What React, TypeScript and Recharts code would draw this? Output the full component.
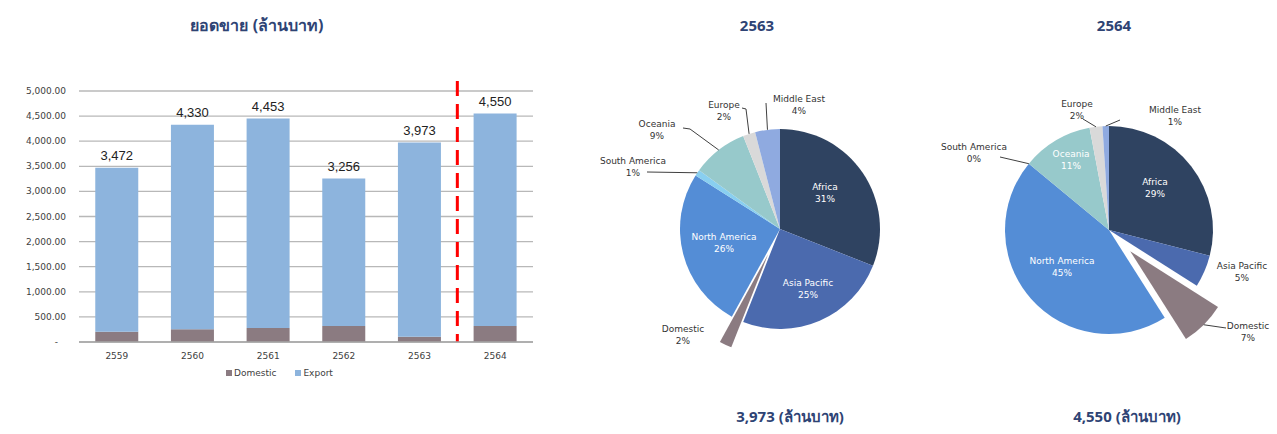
import { BarChart, Bar, XAxis, YAxis, CartesianGrid, ReferenceLine, LabelList, PieChart, Pie, Cell } from 'recharts';

// sales by year (million baht)
const years = ['2559', '2560', '2561', '2562', '2563', '2564'];
const totalSales = [3472, 4330, 4453, 3256, 3973, 4550];
const domesticSales = [205, 252, 278, 317, 105, 317];
const yTicks = [0, 500, 1000, 1500, 2000, 2500, 3000, 3500, 4000, 4500, 5000];
const seriesNames = ['Domestic', 'Export'];

// market share (%) by region
const regions = ['Africa', 'Asia Pacific', 'Domestic', 'North America', 'South America', 'Oceania', 'Europe', 'Middle East'];
const share2563 = [31, 25, 2, 26, 1, 9, 2, 4];
const share2564 = [29, 5, 7, 45, 0, 11, 2, 1];

const DOMESTIC_COLOR = '#8b7b81';
const EXPORT_COLOR = '#8db4dd';
const regionColors = ['#2f4361', '#4b6aae', DOMESTIC_COLOR, '#548dd6', '#89cff0', '#97c9cb', '#d9d9d9', '#8faae0'];
const NAVY = '#2e4374';
const SMALL_FONT = "'DejaVu Sans', sans-serif";
const HEAD_FONT = "'Noto Sans', 'DejaVu Sans', sans-serif";

type LabelSpot = { dx: number; dy: number; inside?: boolean; line?: number[][] };

// label placement relative to the pie centre (hand placed, like the original)
const spots2563: Record<string, LabelSpot> = {
  'Africa': { dx: 45, dy: -36, inside: true },
  'Asia Pacific': { dx: 28, dy: 60, inside: true },
  'Domestic': { dx: -97, dy: 106 },
  'North America': { dx: -56, dy: 14, inside: true },
  'South America': { dx: -147, dy: -62, line: [[-133, -57]] },
  'Oceania': { dx: -123, dy: -99, line: [[-90, -100], [-97, -101]] },
  'Europe': { dx: -56, dy: -118, line: [[-34, -120], [-38, -121]] },
  'Middle East': { dx: 19, dy: -124, line: [[-14, -126]] },
};

const spots2564: Record<string, LabelSpot> = {
  'Africa': { dx: 46, dy: -42, inside: true },
  'Asia Pacific': { dx: 133, dy: 42 },
  'Domestic': { dx: 139, dy: 102, line: [[117, 98]] },
  'North America': { dx: -47, dy: 37, inside: true },
  'South America': { dx: -135, dy: -77, line: [[-109, -73]] },
  'Oceania': { dx: -38, dy: -70, inside: true },
  'Europe': { dx: -32, dy: -120, line: [[-26, -111]] },
  'Middle East': { dx: 66, dy: -114, line: [[11, -110]] },
};

const fmt = (n: number) => n.toLocaleString('en-US');

const barData = years.map((year, i) => ({
  year,
  domestic: domesticSales[i],
  export: totalSales[i] - domesticSales[i],
  total: totalSales[i],
}));

const YTick = ({ x, y, payload }: any) => (
  <text
    x={payload.value === 0 ? x - 8 : x}
    y={y}
    textAnchor="end"
    dominantBaseline="central"
    fontSize={9}
    fontFamily={SMALL_FONT}
    fill="#404040"
  >
    {payload.value === 0
      ? '-'
      : payload.value.toLocaleString('en-US', { minimumFractionDigits: 2, maximumFractionDigits: 2 })}
  </text>
);

const TotalLabel = ({ x, y, width, value }: any) => (
  <text
    x={Number(x) + Number(width) / 2}
    y={Number(y) - 12}
    textAnchor="middle"
    dominantBaseline="central"
    fontSize={13}
    fontFamily="'Liberation Sans', sans-serif"
    fill="#222"
  >
    {fmt(value)}
  </text>
);

const RADIAN = Math.PI / 180;

interface RegionPieProps {
  shares: number[];
  spots: Record<string, LabelSpot>;
  radius: number;
  explode: number;
  left: number;
  top: number;
  width: number;
  height: number;
  cx: number;
  cy: number;
}

const RegionPie = ({ shares, spots, radius, explode, left, top, width, height, cx, cy }: RegionPieProps) => {
  const data = regions.map((name, i) => ({ name, value: shares[i] }));
  const domIdx = regions.indexOf('Domestic');
  const total = shares.reduce((a, b) => a + b, 0);
  const before = shares.slice(0, domIdx).reduce((a, b) => a + b, 0);
  const mid = ((before + shares[domIdx] / 2) / total) * 2 * Math.PI;
  const ex = cx + explode * Math.sin(mid);
  const ey = cy - explode * Math.cos(mid);

  const renderLabel = (p: any) => {
    const { index, midAngle } = p;
    const s = spots[regions[index]];
    const ox = index === domIdx ? ex : cx;
    const oy = index === domIdx ? ey : cy;
    const lx = cx + s.dx;
    const ly = cy + s.dy;
    const color = s.inside ? '#ffffff' : '#333333';
    let line = null;
    if (s.line) {
      const sx = ox + radius * Math.cos(-midAngle * RADIAN);
      const sy = oy + radius * Math.sin(-midAngle * RADIAN);
      const pts = [[sx, sy], ...s.line.map(([a, b]) => [cx + a, cy + b])];
      line = <polyline points={pts.map((q) => q.join(',')).join(' ')} fill="none" stroke="#404040" strokeWidth={1} />;
    }
    return (
      <g>
        {line}
        <text x={lx} y={ly - 6} textAnchor="middle" dominantBaseline="central" fontSize={9} fontFamily={SMALL_FONT} fill={color}>
          {regions[index]}
        </text>
        <text x={lx} y={ly + 6} textAnchor="middle" dominantBaseline="central" fontSize={9} fontFamily={SMALL_FONT} fill={color}>
          {`${shares[index]}%`}
        </text>
      </g>
    );
  };

  return (
    <div style={{ position: 'absolute', left, top }}>
      <PieChart width={width} height={height} margin={{ top: 0, right: 0, bottom: 0, left: 0 }}>
        <Pie
          data={data}
          dataKey="value"
          nameKey="name"
          cx={cx}
          cy={cy}
          outerRadius={radius}
          startAngle={90}
          endAngle={-270}
          stroke="none"
          label={renderLabel}
          labelLine={false}
          isAnimationActive={false}
        >
          {data.map((d, i) => (
            <Cell key={d.name} fill={i === domIdx ? 'transparent' : regionColors[i]} />
          ))}
        </Pie>
        <Pie
          data={data}
          dataKey="value"
          nameKey="name"
          cx={ex}
          cy={ey}
          outerRadius={radius}
          startAngle={90}
          endAngle={-270}
          stroke="none"
          label={false}
          labelLine={false}
          isAnimationActive={false}
        >
          {data.map((d, i) => (
            <Cell key={d.name} fill={i === domIdx ? regionColors[i] : 'transparent'} />
          ))}
        </Pie>
      </PieChart>
    </div>
  );
};

const headStyle = (cxPos: number, cyPos: number, size: number): React.CSSProperties => ({
  position: 'absolute',
  left: cxPos - 150,
  top: cyPos - size,
  width: 300,
  height: size * 2,
  lineHeight: `${size * 2}px`,
  textAlign: 'center',
  fontFamily: HEAD_FONT,
  fontWeight: 700,
  fontSize: size,
  color: NAVY,
});

export default function App() {
  const legendColors = [DOMESTIC_COLOR, EXPORT_COLOR];
  return (
    <div style={{ position: 'absolute', left: 0, top: 0, width: 1277, height: 434, background: '#fff', overflow: 'hidden' }}>
      <div style={headStyle(257, 25, 16)}>ยอดขาย (ล้านบาท)</div>
      <div style={headStyle(757, 25, 15)}>{years[4]}</div>
      <div style={headStyle(1114, 25, 15)}>{years[5]}</div>
      <div style={headStyle(790, 416, 15)}>{`${fmt(totalSales[4])} (ล้านบาท)`}</div>
      <div style={headStyle(1127, 416, 15)}>{`${fmt(totalSales[5])} (ล้านบาท)`}</div>

      <div style={{ position: 'absolute', left: 0, top: 0 }}>
        <BarChart
          width={560}
          height={400}
          data={barData}
          margin={{ top: 91, right: 27, bottom: 28, left: 0 }}
          barCategoryGap="21.5%"
        >
          <CartesianGrid vertical={false} stroke="#b8b8b8" strokeWidth={1.3} />
          <XAxis
            dataKey="year"
            height={30}
            axisLine={{ stroke: '#a6a6a6', strokeWidth: 1.3 }}
            tickLine={false}
            tickSize={0}
            tickMargin={11}
            tick={{ fontSize: 9, fontFamily: SMALL_FONT, fill: '#404040' }}
          />
          <YAxis
            width={79}
            domain={[0, 5000]}
            ticks={yTicks}
            axisLine={false}
            tickLine={false}
            tickSize={0}
            tickMargin={13}
            tick={<YTick />}
          />
          <Bar dataKey="domestic" stackId="s" fill={DOMESTIC_COLOR} isAnimationActive={false} />
          <Bar dataKey="export" stackId="s" fill={EXPORT_COLOR} isAnimationActive={false}>
            <LabelList dataKey="total" content={<TotalLabel />} />
          </Bar>
          <ReferenceLine
            segment={[{ x: years[5], y: 5200 }, { x: years[5], y: 0 }]}
            position="start"
            ifOverflow="visible"
            stroke="#ff0000"
            strokeWidth={3}
            strokeDasharray="15 8"
          />
        </BarChart>
      </div>

      <div
        style={{
          position: 'absolute',
          left: 226,
          top: 366,
          display: 'flex',
          gap: 19,
          fontFamily: SMALL_FONT,
          fontSize: 9,
          color: '#404040',
          lineHeight: '14px',
        }}
      >
        {seriesNames.map((name, i) => (
          <div key={name} style={{ display: 'flex', alignItems: 'center' }}>
            <span style={{ display: 'inline-block', width: 6, height: 6, background: legendColors[i], marginRight: 2 }} />
            {name}
          </div>
        ))}
      </div>

      <RegionPie shares={share2563} spots={spots2563} radius={100} explode={28} left={560} top={60} width={370} height={320} cx={220} cy={169} />
      <RegionPie shares={share2564} spots={spots2564} radius={104} explode={30} left={930} top={60} width={347} height={320} cx={179} cy={170} />
    </div>
  );
}
